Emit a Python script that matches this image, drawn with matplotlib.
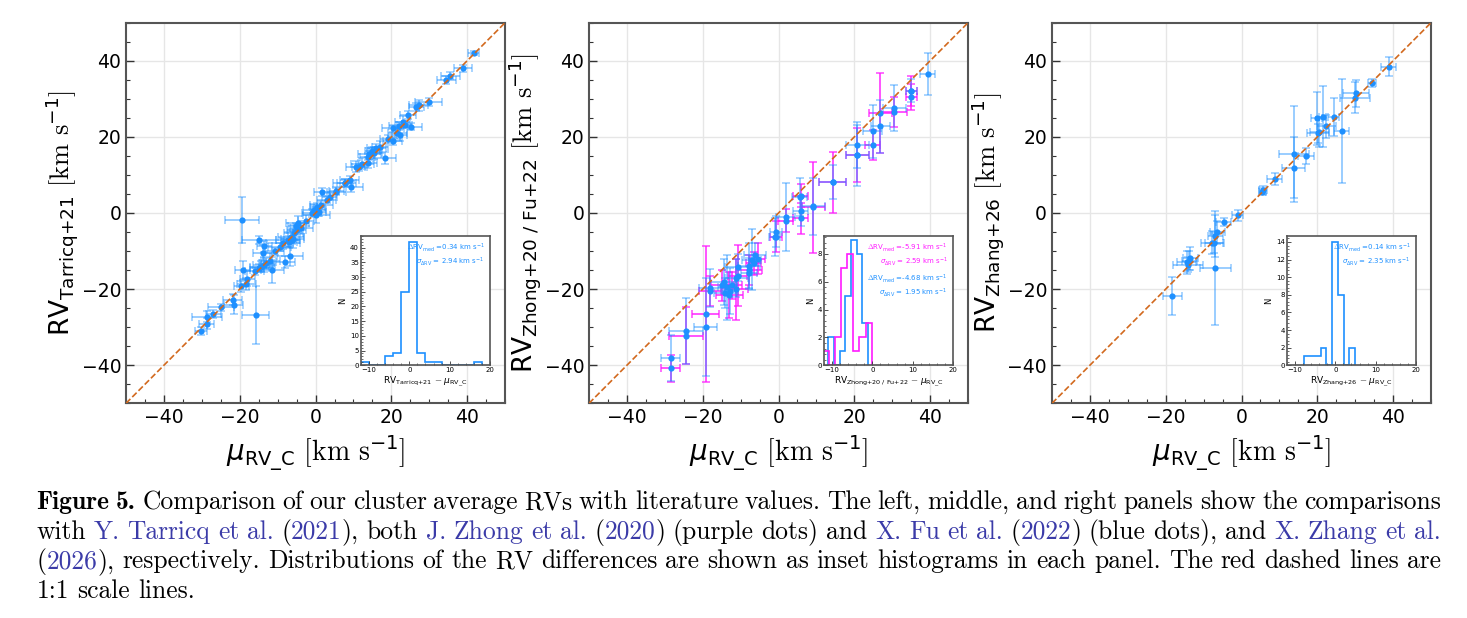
import re
import matplotlib.pyplot as plt
from matplotlib.ticker import MultipleLocator

plt.rcParams['mathtext.fontset'] = 'custom'
plt.rcParams['mathtext.rm'] = 'cmr10'
plt.rcParams['mathtext.sf'] = 'DejaVu Sans'
plt.rcParams['mathtext.it'] = 'DejaVu Sans:italic'
plt.rcParams['mathtext.bf'] = 'DejaVu Sans:bold'

# ---- left panel: Tarricq+21 ----
tar_x = [-30.2, -28.7, -28.7, -24.9, -21.8, -21.6, -19.6, -18.3, -19.2, -18.0, -15.8, -19.5,
         -14.3, -13.6, -14.8, -13.0, -11.4, -8.0, -6.7, -13.9, -13.5, -15.0, -10.8, -7.4,
         -6.5, -5.8, -5.0, -7.0, -6.0, -4.7, -5.2, -8.5, -0.3, 0.5, -1.0, 0.2, 1.7, 5.5,
         7.7, 1.5, 3.7, 5.5, 7.7, 9.0, 9.4, 10.6, 12.3, 13.8, 13.8, 14.2, 15.0, 16.0, 17.0,
         15.5, 18.2, 20.4, 22.2, 20.4, 22.0, 23.0, 25.2, 24.4, 26.6, 27.2, 29.8, 34.5, 35.5,
         38.9, 41.7, 21.5, 23.5, -2.5, -9.5, -16.0, -12.0, 3.0, 11.5, -3.8, 0.8, 19.0,
         -27.0, -6.2]
tar_y = [-31.0, -29.1, -27.2, -24.8, -22.8, -24.1, -19.3, -18.7, -15.0, -17.3, -26.7, -1.8,
         -14.1, -13.6, -14.5, -13.2, -15.0, -12.9, -11.3, -10.4, -8.8, -7.1, -10.1, -7.0,
         -6.3, -5.2, -4.4, -7.6, -6.8, -2.7, -3.5, -8.0, 0.8, 1.5, 0.0, -0.5, 5.5, 5.6,
         7.8, 2.1, 4.3, 5.9, 8.0, 8.7, 6.9, 12.2, 13.0, 14.8, 13.2, 15.6, 16.3, 17.0, 17.3,
         15.8, 14.4, 18.9, 20.5, 22.2, 22.8, 24.0, 22.7, 25.7, 27.9, 28.3, 29.1, 34.9, 36.1,
         38.0, 42.1, 21.0, 23.2, -2.0, -9.0, -15.2, -12.5, 3.5, 12.0, -4.0, 0.3, 19.5,
         -26.5, -7.2]
tar_xe = [1.5, 2.0, 4.0, 3.5, 2.5, 2.5, 2.0, 2.5, 2.0, 2.0, 3.6, 4.5,
          3.0, 3.0, 2.5, 2.0, 3.0, 2.5, 3.5, 2.5, 2.0, 4.5, 2.5, 3.0,
          3.5, 2.5, 2.5, 2.0, 3.0, 3.0, 2.0, 4.5, 3.0, 2.0, 2.5, 3.5, 2.0, 2.5,
          2.0, 3.0, 2.0, 2.0, 3.0, 2.5, 3.0, 2.5, 3.0, 2.0, 2.5, 3.0, 2.0, 2.5, 2.0,
          2.0, 3.0, 2.5, 2.0, 3.0, 2.5, 2.0, 3.0, 2.0, 2.0, 2.5, 3.5, 2.5, 2.5,
          2.5, 1.5, 2.5, 2.0, 2.0, 3.0, 2.5, 2.5, 2.5, 2.0, 3.0, 2.0, 2.0,
          2.0, 2.0]
tar_ye = [1.0, 1.5, 1.5, 1.0, 1.5, 2.5, 1.5, 1.5, 2.5, 2.0, 7.6, 6.0,
          1.5, 2.0, 1.0, 1.5, 3.5, 1.5, 2.5, 2.0, 1.5, 1.0, 1.0, 2.0,
          1.5, 2.0, 1.5, 1.5, 2.5, 2.0, 1.0, 1.5, 1.5, 1.0, 1.0, 2.0, 1.0, 1.0,
          1.0, 1.0, 1.0, 1.0, 1.0, 1.0, 1.5, 1.5, 1.5, 1.0, 1.5, 1.5, 1.0, 1.0, 1.5,
          1.5, 1.5, 1.0, 1.5, 1.0, 1.0, 1.5, 1.0, 1.0, 1.0, 1.5, 1.0, 1.0, 1.0,
          1.0, 0.5, 1.5, 1.0, 1.5, 1.0, 1.0, 2.0, 1.0, 1.0, 1.5, 1.0, 1.0,
          1.0, 1.0]
tar_edges = [-12, -10, -8, -6, -4, -2, 0, 2, 4, 6, 8, 10, 12, 14, 16, 18]
tar_counts = [1, 0, 0, 3, 4, 25, 42, 4, 1, 1, 0, 0, 0, 0, 1]

# ---- middle panel: Fu+22 (blue) and Zhong+20 (magenta) ----
fu_x = [-28.5, -24.5, -19.2, -18.1, -14.5, -13.5, -12.8, -14.0, -11.1, -10.7, -7.8, -7.1,
        -7.8, -6.2, -0.7, 1.9, 5.6, 5.9, 9.2, 14.3, 20.8, 20.8, 24.8, 26.8, 30.5, 35.0,
        39.4, -1.0]
fu_y = [-38.1, -31.0, -30.0, -19.8, -18.2, -19.5, -20.5, -21.0, -17.2, -14.3, -13.9, -12.3,
        -15.8, -11.0, -4.9, -1.1, 4.3, 0.5, 1.8, 8.1, 17.8, 15.2, 21.5, 22.8, 27.5, 32.1,
        36.6, -6.2]
fu_xe = [2.6, 4.5, 3.0, 3.0, 3.5, 2.5, 2.0, 3.0, 3.0, 3.5, 3.0, 2.5,
         2.0, 3.0, 1.5, 2.5, 2.0, 2.0, 3.0, 3.5, 3.0, 3.0, 2.5, 2.5, 3.0, 1.5,
         2.0, 1.5]
fu_ye = [6.0, 8.6, 12.8, 5.0, 6.0, 8.5, 6.0, 4.0, 5.0, 3.5, 6.0, 8.0,
         4.0, 3.0, 4.0, 9.0, 5.0, 4.0, 7.5, 4.5, 6.0, 8.0, 7.0, 7.0, 6.0, 3.0,
         5.5, 5.0]
zh_x = [-28.5, -24.5, -19.2, -18.1, -14.8, -13.0, -12.2, -11.1, -10.7, -7.8, -6.5, -0.7,
        1.9, 5.9, 5.9, 9.2, 14.3, 20.8, 24.8, 26.8, 30.5, 35.0, 35.0, -5.5]
zh_y = [-40.8, -32.2, -26.6, -20.5, -19.0, -21.5, -19.0, -20.0, -16.5, -15.0, -13.2, -6.2,
        -2.0, -1.4, 4.5, 1.5, 8.1, 15.2, 17.8, 26.3, 26.6, 30.5, 32.1, -12.0]
zh_xe = [2.6, 4.5, 3.5, 3.0, 3.0, 3.5, 2.5, 3.0, 2.5, 3.5, 2.0, 1.5,
         2.0, 2.0, 2.0, 3.0, 3.5, 3.0, 2.0, 3.0, 3.5, 1.5, 1.5, 2.0]
zh_ye = [3.5, 7.6, 17.8, 4.0, 4.0, 6.0, 3.5, 8.0, 8.0, 4.0, 3.0, 4.0,
         3.0, 4.0, 3.0, 12.0, 8.0, 7.0, 4.0, 10.5, 4.0, 3.5, 4.0, 4.0]
zh_edges = [-12.2, -10.7, -9.2, -7.7, -6.2, -4.7, -3.2, -1.7, -0.2]
zh_counts = [1, 0, 2, 7, 8, 1, 2, 3]
fu_edges = [-10.9, -9.5, -8.1, -6.7, -5.3, -3.9, -2.5, -1.1]
fu_counts = [2, 0, 1, 5, 9, 8, 3]

# ---- right panel: Zhang+26 ----
zg_x = [-18.3, -6.9, -14.2, -13.5, -14.5, -13.8, -7.8, -7.2, -6.9, -6.4, -4.7, -1.0,
        5.5, 5.7, 8.7, 13.8, 13.8, 17.0, 20.2, 20.5, 19.8, 21.4, 22.4, 24.3, 26.4, 29.9,
        30.2, 34.4, 38.8]
zg_y = [-21.8, -14.4, -13.6, -11.9, -13.0, -12.5, -7.8, -7.9, -6.0, -5.1, -2.4, -0.6,
        5.6, 6.0, 8.9, 11.9, 15.5, 15.0, 20.9, 21.3, 24.9, 25.3, 22.8, 25.3, 21.5, 30.3,
        31.4, 34.2, 38.4]
zg_xe = [2.5, 4.0, 4.0, 2.0, 2.5, 2.0, 3.0, 2.5, 2.0, 2.0, 2.0, 1.5,
         1.0, 1.0, 2.0, 3.0, 4.0, 2.0, 3.0, 2.5, 1.5, 1.0, 2.5, 1.5, 2.0, 4.0,
         3.5, 1.0, 2.0]
zg_ye = [5.0, 15.0, 2.0, 3.0, 3.0, 2.5, 3.0, 2.5, 5.5, 3.0, 1.0, 1.5,
         1.0, 1.0, 1.5, 8.0, 12.5, 2.0, 2.5, 4.0, 7.0, 8.0, 3.0, 5.0, 13.7, 4.0,
         3.5, 1.0, 2.5]
zg_edges = [-7.9, -6.48, -5.06, -3.64, -2.22, -0.8, 0.62, 2.04, 3.46, 4.88]
zg_counts = [1, 1, 1, 2, 0, 14, 8, 0, 2]

caption_lines = [
    "*Figure* *5.* Comparison of our cluster average RVs with literature values. The left, middle, and right panels show the comparisons",
    "with {Y.} {Tarricq} {et} {al.} ({2021}), both {J.} {Zhong} {et} {al.} ({2020}) (purple dots) and {X.} {Fu} {et} {al.} ({2022}) (blue dots), and {X.} {Zhang} {et} {al.}",
    "({2026}), respectively. Distributions of the RV differences are shown as inset histograms in each panel. The red dashed lines are",
    "1:1 scale lines.",
]

BLUE = 'dodgerblue'
MAG = '#ff1aff'
LINK = '#3b3ba8'
UNIT = r'$\mathrm{[km\ s}^{\mathsf{-1}}\mathrm{]}$'


def setup_main(ax, ylabel):
    ax.plot([-50, 50], [-50, 50], ls='--', color='#d2691e', lw=1.2, zorder=4)
    ax.set_xlim(-50, 50)
    ax.set_ylim(-50, 50)
    ax.xaxis.set_major_locator(MultipleLocator(20))
    ax.yaxis.set_major_locator(MultipleLocator(20))
    ax.xaxis.set_minor_locator(MultipleLocator(5))
    ax.yaxis.set_minor_locator(MultipleLocator(5))
    ax.tick_params(which='both', direction='in', labelsize=13.5, color='#333333')
    ax.tick_params(which='major', length=6, width=1)
    ax.tick_params(which='minor', length=3, width=0.8)
    ax.grid(True, which='major', color='#e6e6e6', lw=1, zorder=0)
    ax.set_axisbelow(True)
    for s in ax.spines.values():
        s.set_color('#555555')
        s.set_linewidth(1.5)
    ax.set_xlabel(r'$\mu_{\mathsf{RV\_C}}$ ' + UNIT, fontsize=20, labelpad=4)
    ax.set_ylabel(r'RV$_{\mathsf{' + ylabel + '}}$ ' + UNIT, fontsize=19, labelpad=1)


def points(ax, x, y, xe, ye, ecolor, alpha):
    ax.errorbar(x, y, xerr=xe, yerr=ye, fmt='none', ecolor=ecolor, alpha=alpha,
                capsize=3, elinewidth=1.4, capthick=1.2, zorder=2)
    ax.plot(x, y, 'o', color=BLUE, ms=4.5, mec='none', zorder=3)


def setup_inset(ax, sub, ystep, ymax):
    ins = ax.inset_axes([0.62, 0.10, 0.34, 0.34])
    ins.set_zorder(6)
    ins.set_xlim(-12, 20)
    ins.set_ylim(0, ymax)
    ins.xaxis.set_major_locator(MultipleLocator(10))
    ins.yaxis.set_major_locator(MultipleLocator(ystep))
    ins.xaxis.set_minor_locator(MultipleLocator(2))
    ins.yaxis.set_minor_locator(MultipleLocator(ystep / 5))
    ins.tick_params(which='both', direction='in', labelsize=5, pad=1.5, color='#333333')
    ins.tick_params(which='major', length=3, width=0.6)
    ins.tick_params(which='minor', length=1.5, width=0.5)
    for s in ins.spines.values():
        s.set_color('#555555')
        s.set_linewidth(1.2)
    ins.set_ylabel('N', fontsize=6, labelpad=2)
    ins.set_xlabel(r'RV$_{\mathsf{' + sub + r'}}$ $-$ $\mu_{\mathsf{RV\_C}}$', fontsize=6.5, labelpad=1)
    return ins


def stat_text(ins, y, med, sig, color):
    ins.text(0.96, y, r'$\Delta$RV$_{\mathsf{med}}$ =' + med + r' km s$^{\mathsf{-1}}$',
             transform=ins.transAxes, ha='right', va='top', fontsize=5, color=color)
    ins.text(0.96, y - 0.11, r'$\sigma_{\mathsf{\Delta RV}}$ = ' + sig + r' km s$^{\mathsf{-1}}$',
             transform=ins.transAxes, ha='right', va='top', fontsize=5, color=color)


def draw_caption(fig, lines, x0, x1, baselines, size):
    renderer = fig.canvas.get_renderer()
    W = fig.bbox.width
    for k, (line, yb) in enumerate(zip(lines, baselines)):
        words = []
        for w in line.split(' '):
            runs = []
            for part in re.split(r'(\{[^}]*\}|\*[^*]*\*)', w):
                if not part:
                    continue
                if part[0] == '{':
                    runs.append((part[1:-1], LINK, 'cmr10'))
                elif part[0] == '*':
                    runs.append((part[1:-1], 'black', 'cmb10'))
                else:
                    runs.append((part, 'black', 'cmr10'))
            objs = []
            width = 0
            for txt, col, fam in runs:
                t = fig.text(0, 1 - yb / fig.bbox.height, txt, fontsize=size, family=fam,
                             color=col, va='baseline', ha='left')
                wpx = t.get_window_extent(renderer).width
                objs.append((t, wpx))
                width += wpx
            words.append((objs, width))
        total = sum(w for _, w in words)
        if k < len(lines) - 1:
            gap = (x1 - x0 - total) / (len(words) - 1)
        else:
            gap = size * 100 / 72 * 0.33
        cur = x0
        for objs, width in words:
            for t, wpx in objs:
                t.set_x(cur / W)
                cur += wpx
            cur += gap


fig = plt.figure(figsize=(14.67, 6.18), dpi=100)
ax1 = fig.add_axes([0.0859, 0.3474, 0.2584, 0.6159])
ax2 = fig.add_axes([0.4015, 0.3474, 0.2584, 0.6159])
ax3 = fig.add_axes([0.7171, 0.3474, 0.2584, 0.6159])

setup_main(ax1, 'Tarricq{+}21')
points(ax1, tar_x, tar_y, tar_xe, tar_ye, BLUE, 0.45)
ins1 = setup_inset(ax1, 'Tarricq{+}21', 5, 44)
ins1.stairs(tar_counts, tar_edges, color=BLUE, lw=1.2)
stat_text(ins1, 0.96, '0.34', '2.94', BLUE)

setup_main(ax2, r'Zhong{+}20\ /\ Fu{+}22')
points(ax2, zh_x, zh_y, zh_xe, zh_ye, MAG, 0.75)
points(ax2, fu_x, fu_y, fu_xe, fu_ye, BLUE, 0.45)
ins2 = setup_inset(ax2, r'Zhong{+}20\ /\ Fu{+}22', 2, 9.3)
ins2.stairs(fu_counts, fu_edges, color=BLUE, lw=1.2)
ins2.stairs(zh_counts, zh_edges, color=MAG, lw=1.2)
stat_text(ins2, 0.96, '-5.91', '2.59', MAG)
stat_text(ins2, 0.72, '-4.68', '1.95', BLUE)

setup_main(ax3, 'Zhang{+}26')
points(ax3, zg_x, zg_y, zg_xe, zg_ye, BLUE, 0.45)
ins3 = setup_inset(ax3, 'Zhang{+}26', 2, 14.7)
ins3.stairs(zg_counts, zg_edges, color=BLUE, lw=1.2)
stat_text(ins3, 0.96, '0.14', '2.35', BLUE)

draw_caption(fig, caption_lines, 36.5, 1441, [509.3, 538.6, 568.3, 598.0], 18.4)

fig.savefig('out.png', dpi=100)
